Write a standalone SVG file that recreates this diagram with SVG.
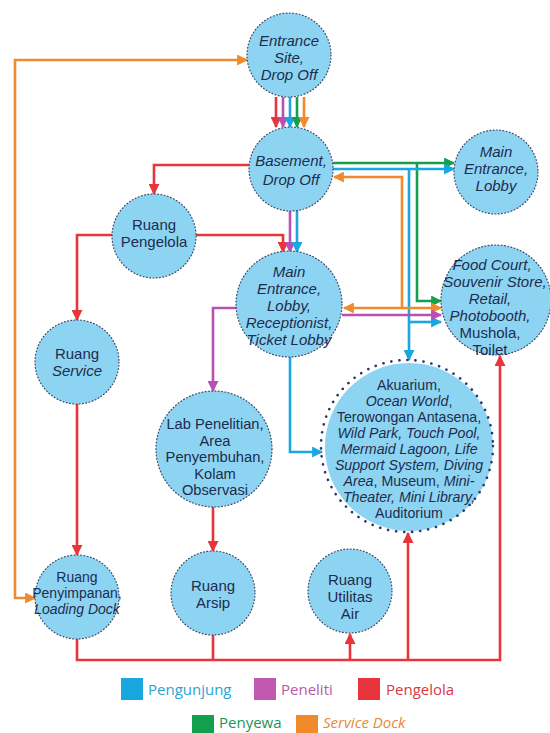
<svg xmlns="http://www.w3.org/2000/svg" width="550" height="733" viewBox="0 0 550 733">
<defs>
<style>
.bg{fill:#ffffff}
.nf{fill:#8dd4f2}
.nd{fill:none;stroke:#3a4766;stroke-width:1.2;stroke-dasharray:0.9 2.4;stroke-linecap:round}
.nbig{fill:none;stroke:#28366a;stroke-width:2.6;stroke-dasharray:0.1 8;stroke-linecap:round}
.t{font-family:"Liberation Sans",Arial,sans-serif;font-size:15px;fill:#1d2c4e;text-anchor:middle}
.tl{font-size:14.7px}
.ta{font-size:14.2px}
.ts{font-size:14px}
.i{font-style:italic}
.c{fill:none;stroke-width:2.6}
.r{stroke:#e8343b}
.p{stroke:#b94fb4}
.b{stroke:#1aa6df}
.g{stroke:#12a04e}
.o{stroke:#f08a2c}
.lg{font-family:"Open Sans","Noto Sans",sans-serif;font-size:15px}
</style>
<marker id="mr" viewBox="0 0 10 10" refX="9" refY="5" markerWidth="11" markerHeight="11" markerUnits="userSpaceOnUse" orient="auto"><path d="M0,0 L10,5 L0,10 z" fill="#e8343b"/></marker>
<marker id="mp" viewBox="0 0 10 10" refX="9" refY="5" markerWidth="11" markerHeight="11" markerUnits="userSpaceOnUse" orient="auto"><path d="M0,0 L10,5 L0,10 z" fill="#b94fb4"/></marker>
<marker id="mb" viewBox="0 0 10 10" refX="9" refY="5" markerWidth="11" markerHeight="11" markerUnits="userSpaceOnUse" orient="auto"><path d="M0,0 L10,5 L0,10 z" fill="#1aa6df"/></marker>
<marker id="mg" viewBox="0 0 10 10" refX="9" refY="5" markerWidth="11" markerHeight="11" markerUnits="userSpaceOnUse" orient="auto"><path d="M0,0 L10,5 L0,10 z" fill="#12a04e"/></marker>
<marker id="mo" viewBox="0 0 10 10" refX="9" refY="5" markerWidth="11" markerHeight="11" markerUnits="userSpaceOnUse" orient="auto-start-reverse"><path d="M0,0 L10,5 L0,10 z" fill="#f08a2c"/></marker>
</defs>
<rect class="bg" x="0" y="0" width="550" height="733"/>

<g id="connectors">
<path class="c o" d="M247,60 H15 V598 H35" marker-start="url(#mo)" marker-end="url(#mo)"/>
<path class="c r" d="M276,97 V127" marker-end="url(#mr)"/>
<path class="c p" d="M283,97 V127" marker-end="url(#mp)"/>
<path class="c b" d="M290,97 V127" marker-end="url(#mb)"/>
<path class="c g" d="M297,97 V127" marker-end="url(#mg)"/>
<path class="c o" d="M304,97 V127" marker-end="url(#mo)"/>
<path class="c r" d="M249,165 H154 V194" marker-end="url(#mr)"/>
<path class="c r" d="M196,235 H283 V252" marker-end="url(#mr)"/>
<path class="c p" d="M290,211 V252" marker-end="url(#mp)"/>
<path class="c b" d="M297,210 V252" marker-end="url(#mb)"/>
<path class="c r" d="M112,235 H77 V320" marker-end="url(#mr)"/>
<path class="c r" d="M77,404 V555" marker-end="url(#mr)"/>
<path class="c p" d="M237,308 H213 V391" marker-end="url(#mp)"/>
<path class="c r" d="M213,507 V551" marker-end="url(#mr)"/>
<path class="c b" d="M290,357 V452 H322" marker-end="url(#mb)"/>
<path class="c g" d="M333,163 H454" marker-end="url(#mg)"/>
<path class="c g" d="M417,163 V301 H441" marker-end="url(#mg)"/>
<path class="c b" d="M333,169 H454" marker-end="url(#mb)"/>
<path class="c b" d="M409,169 V360" marker-end="url(#mb)"/>
<path class="c b" d="M409,322 H441" marker-end="url(#mb)"/>
<path class="c o" d="M402,308 V177 H334" marker-end="url(#mo)"/>
<path class="c o" d="M344,308 H441" marker-start="url(#mo)" marker-end="url(#mo)"/>
<path class="c p" d="M342,315 H441" marker-end="url(#mp)"/>
<path class="c r" d="M77,639 V660 H500 V356" marker-end="url(#mr)"/>
<path class="c r" d="M213,635 V660"/>
<path class="c r" d="M350,660 V634" marker-end="url(#mr)"/>
<path class="c r" d="M408,660 V533" marker-end="url(#mr)"/>
</g>

<g id="entrance-site">
<circle class="nf" cx="289" cy="55" r="42"/><circle class="nd" cx="289" cy="55" r="42"/>
<text class="t i"><tspan x="289" y="46">Entrance</tspan><tspan x="289" y="63">Site,</tspan><tspan x="289" y="80">Drop Off</tspan></text>
</g>
<g id="basement">
<circle class="nf" cx="291" cy="169" r="42"/><circle class="nd" cx="291" cy="169" r="42"/>
<text class="t i"><tspan x="291" y="166">Basement,</tspan><tspan x="291" y="185">Drop Off</tspan></text>
</g>
<g id="main-entrance-lobby">
<circle class="nf" cx="496" cy="172" r="42"/><circle class="nd" cx="496" cy="172" r="42"/>
<text class="t i"><tspan x="496" y="157">Main</tspan><tspan x="496" y="174">Entrance,</tspan><tspan x="496" y="191">Lobby</tspan></text>
</g>
<g id="ruang-pengelola">
<circle class="nf" cx="154" cy="236" r="42"/><circle class="nd" cx="154" cy="236" r="42"/>
<text class="t"><tspan x="154" y="230">Ruang</tspan><tspan x="154" y="247">Pengelola</tspan></text>
</g>
<g id="main-entrance-receptionist">
<circle class="nf" cx="289" cy="304" r="53"/><circle class="nd" cx="289" cy="304" r="53"/>
<text class="t i"><tspan x="289" y="277">Main</tspan><tspan x="289" y="294">Entrance,</tspan><tspan x="289" y="311">Lobby,</tspan><tspan x="289" y="328">Receptionist,</tspan><tspan x="289" y="345">Ticket Lobby</tspan></text>
</g>
<g id="food-court">
<circle class="nf" cx="496" cy="300" r="55"/><circle class="nd" cx="496" cy="300" r="55"/>
<text class="t"><tspan class="i" x="492" y="270">Food Court,</tspan><tspan class="i" x="495" y="287">Souvenir Store,</tspan><tspan class="i" x="490" y="304">Retail,</tspan><tspan class="i" x="490" y="321">Photobooth,</tspan><tspan x="490" y="338">Mushola,</tspan><tspan x="490" y="355">Toilet</tspan></text>
</g>
<g id="ruang-service">
<circle class="nf" cx="77" cy="362" r="42"/><circle class="nd" cx="77" cy="362" r="42"/>
<text class="t"><tspan x="77" y="359">Ruang</tspan><tspan class="i" x="77" y="376">Service</tspan></text>
</g>
<g id="lab-penelitian">
<circle class="nf" cx="214" cy="449" r="58"/><circle class="nd" cx="214" cy="449" r="58"/>
<text class="t tl"><tspan x="215" y="429">Lab Penelitian,</tspan><tspan x="215" y="445.6">Area</tspan><tspan x="215" y="462.2">Penyembuhan,</tspan><tspan x="215" y="478.8">Kolam</tspan><tspan x="215" y="495.4">Observasi</tspan></text>
</g>
<g id="akuarium">
<circle class="nf" cx="409" cy="447" r="84"/><circle class="nbig" cx="407" cy="446" r="86"/>
<text class="t ta"><tspan x="409" y="390">Akuarium,</tspan><tspan class="i" x="409" y="406">Ocean World</tspan><tspan>,</tspan><tspan x="409" y="422">Terowongan Antasena,</tspan><tspan class="i" x="409" y="438">Wild Park, Touch Pool,</tspan><tspan class="i" x="409" y="454">Mermaid Lagoon, Life</tspan><tspan class="i" x="409" y="470">Support System, Diving</tspan><tspan x="409" y="486"><tspan class="i">Area</tspan>,  Museum, <tspan class="i">Mini-</tspan></tspan><tspan class="i" x="409" y="502">Theater, Mini Library,</tspan><tspan x="409" y="518">Auditorium</tspan></text>
</g>
<g id="ruang-penyimpanan">
<circle class="nf" cx="77" cy="597" r="42"/><circle class="nd" cx="77" cy="597" r="42"/>
<text class="t ts"><tspan x="77" y="582">Ruang</tspan><tspan x="77" y="598">Penyimpanan,</tspan><tspan class="i" x="77" y="614">Loading Dock</tspan></text>
</g>
<g id="ruang-arsip">
<circle class="nf" cx="213" cy="593" r="42"/><circle class="nd" cx="213" cy="593" r="42"/>
<text class="t"><tspan x="213" y="591">Ruang</tspan><tspan x="213" y="608">Arsip</tspan></text>
</g>
<g id="ruang-utilitas">
<circle class="nf" cx="350" cy="591" r="42"/><circle class="nd" cx="350" cy="591" r="42"/>
<text class="t"><tspan x="350" y="585">Ruang</tspan><tspan x="350" y="602">Utilitas</tspan><tspan x="350" y="619">Air</tspan></text>
</g>

<g id="legend">
<rect x="121" y="678" width="22" height="22" fill="#1aa6df"/>
<text class="lg" x="148" y="695" fill="#2aa3d4">Pengunjung</text>
<rect x="254" y="678" width="22" height="22" fill="#c058b0"/>
<text class="lg" x="281" y="695" fill="#b85aa8">Peneliti</text>
<rect x="358" y="678" width="22" height="22" fill="#e8343b"/>
<text class="lg" x="386" y="695" fill="#d8383f">Pengelola</text>
<rect x="192" y="715" width="22" height="22" fill="#12a04e"/>
<text class="lg" x="219" y="728" fill="#16955a">Penyewa</text>
<rect x="296" y="715" width="22" height="22" fill="#f08a2c"/>
<text class="lg i" x="323" y="728" fill="#e8883a">Service Dock</text>
</g>
</svg>
